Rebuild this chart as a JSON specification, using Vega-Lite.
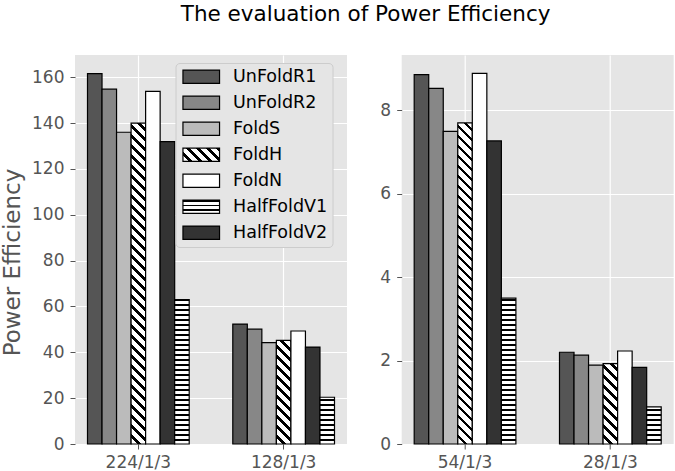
{
  "$schema": "https://vega.github.io/schema/vega-lite/v6.json",
  "background": "white",
  "padding": {"left": 1, "top": 3, "right": 0, "bottom": 0},
  "params": [
    {"name": "gstops", "value": [
      {"offset": 0, "color": "#ffffff"}, {"offset": 0.016, "color": "#ffffff"}, {"offset": 0.016, "color": "#000000"}, {"offset": 0.025, "color": "#000000"},
      {"offset": 0.025, "color": "#ffffff"}, {"offset": 0.041, "color": "#ffffff"}, {"offset": 0.041, "color": "#000000"}, {"offset": 0.05, "color": "#000000"},
      {"offset": 0.05, "color": "#ffffff"}, {"offset": 0.066, "color": "#ffffff"}, {"offset": 0.066, "color": "#000000"}, {"offset": 0.075, "color": "#000000"},
      {"offset": 0.075, "color": "#ffffff"}, {"offset": 0.091, "color": "#ffffff"}, {"offset": 0.091, "color": "#000000"}, {"offset": 0.1, "color": "#000000"},
      {"offset": 0.1, "color": "#ffffff"}, {"offset": 0.116, "color": "#ffffff"}, {"offset": 0.116, "color": "#000000"}, {"offset": 0.125, "color": "#000000"},
      {"offset": 0.125, "color": "#ffffff"}, {"offset": 0.141, "color": "#ffffff"}, {"offset": 0.141, "color": "#000000"}, {"offset": 0.15, "color": "#000000"},
      {"offset": 0.15, "color": "#ffffff"}, {"offset": 0.166, "color": "#ffffff"}, {"offset": 0.166, "color": "#000000"}, {"offset": 0.175, "color": "#000000"},
      {"offset": 0.175, "color": "#ffffff"}, {"offset": 0.191, "color": "#ffffff"}, {"offset": 0.191, "color": "#000000"}, {"offset": 0.2, "color": "#000000"},
      {"offset": 0.2, "color": "#ffffff"}, {"offset": 0.216, "color": "#ffffff"}, {"offset": 0.216, "color": "#000000"}, {"offset": 0.225, "color": "#000000"},
      {"offset": 0.225, "color": "#ffffff"}, {"offset": 0.241, "color": "#ffffff"}, {"offset": 0.241, "color": "#000000"}, {"offset": 0.25, "color": "#000000"},
      {"offset": 0.25, "color": "#ffffff"}, {"offset": 0.266, "color": "#ffffff"}, {"offset": 0.266, "color": "#000000"}, {"offset": 0.275, "color": "#000000"},
      {"offset": 0.275, "color": "#ffffff"}, {"offset": 0.291, "color": "#ffffff"}, {"offset": 0.291, "color": "#000000"}, {"offset": 0.3, "color": "#000000"},
      {"offset": 0.3, "color": "#ffffff"}, {"offset": 0.316, "color": "#ffffff"}, {"offset": 0.316, "color": "#000000"}, {"offset": 0.325, "color": "#000000"},
      {"offset": 0.325, "color": "#ffffff"}, {"offset": 0.341, "color": "#ffffff"}, {"offset": 0.341, "color": "#000000"}, {"offset": 0.35, "color": "#000000"},
      {"offset": 0.35, "color": "#ffffff"}, {"offset": 0.366, "color": "#ffffff"}, {"offset": 0.366, "color": "#000000"}, {"offset": 0.375, "color": "#000000"},
      {"offset": 0.375, "color": "#ffffff"}, {"offset": 0.391, "color": "#ffffff"}, {"offset": 0.391, "color": "#000000"}, {"offset": 0.4, "color": "#000000"},
      {"offset": 0.4, "color": "#ffffff"}, {"offset": 0.416, "color": "#ffffff"}, {"offset": 0.416, "color": "#000000"}, {"offset": 0.425, "color": "#000000"},
      {"offset": 0.425, "color": "#ffffff"}, {"offset": 0.441, "color": "#ffffff"}, {"offset": 0.441, "color": "#000000"}, {"offset": 0.45, "color": "#000000"},
      {"offset": 0.45, "color": "#ffffff"}, {"offset": 0.466, "color": "#ffffff"}, {"offset": 0.466, "color": "#000000"}, {"offset": 0.475, "color": "#000000"},
      {"offset": 0.475, "color": "#ffffff"}, {"offset": 0.491, "color": "#ffffff"}, {"offset": 0.491, "color": "#000000"}, {"offset": 0.5, "color": "#000000"},
      {"offset": 0.5, "color": "#ffffff"}, {"offset": 0.516, "color": "#ffffff"}, {"offset": 0.516, "color": "#000000"}, {"offset": 0.525, "color": "#000000"},
      {"offset": 0.525, "color": "#ffffff"}, {"offset": 0.541, "color": "#ffffff"}, {"offset": 0.541, "color": "#000000"}, {"offset": 0.55, "color": "#000000"},
      {"offset": 0.55, "color": "#ffffff"}, {"offset": 0.566, "color": "#ffffff"}, {"offset": 0.566, "color": "#000000"}, {"offset": 0.575, "color": "#000000"},
      {"offset": 0.575, "color": "#ffffff"}, {"offset": 0.591, "color": "#ffffff"}, {"offset": 0.591, "color": "#000000"}, {"offset": 0.6, "color": "#000000"},
      {"offset": 0.6, "color": "#ffffff"}, {"offset": 0.616, "color": "#ffffff"}, {"offset": 0.616, "color": "#000000"}, {"offset": 0.625, "color": "#000000"},
      {"offset": 0.625, "color": "#ffffff"}, {"offset": 0.641, "color": "#ffffff"}, {"offset": 0.641, "color": "#000000"}, {"offset": 0.65, "color": "#000000"},
      {"offset": 0.65, "color": "#ffffff"}, {"offset": 0.666, "color": "#ffffff"}, {"offset": 0.666, "color": "#000000"}, {"offset": 0.675, "color": "#000000"},
      {"offset": 0.675, "color": "#ffffff"}, {"offset": 0.691, "color": "#ffffff"}, {"offset": 0.691, "color": "#000000"}, {"offset": 0.7, "color": "#000000"},
      {"offset": 0.7, "color": "#ffffff"}, {"offset": 0.716, "color": "#ffffff"}, {"offset": 0.716, "color": "#000000"}, {"offset": 0.725, "color": "#000000"},
      {"offset": 0.725, "color": "#ffffff"}, {"offset": 0.741, "color": "#ffffff"}, {"offset": 0.741, "color": "#000000"}, {"offset": 0.75, "color": "#000000"},
      {"offset": 0.75, "color": "#ffffff"}, {"offset": 0.766, "color": "#ffffff"}, {"offset": 0.766, "color": "#000000"}, {"offset": 0.775, "color": "#000000"},
      {"offset": 0.775, "color": "#ffffff"}, {"offset": 0.791, "color": "#ffffff"}, {"offset": 0.791, "color": "#000000"}, {"offset": 0.8, "color": "#000000"},
      {"offset": 0.8, "color": "#ffffff"}, {"offset": 0.816, "color": "#ffffff"}, {"offset": 0.816, "color": "#000000"}, {"offset": 0.825, "color": "#000000"},
      {"offset": 0.825, "color": "#ffffff"}, {"offset": 0.841, "color": "#ffffff"}, {"offset": 0.841, "color": "#000000"}, {"offset": 0.85, "color": "#000000"},
      {"offset": 0.85, "color": "#ffffff"}, {"offset": 0.866, "color": "#ffffff"}, {"offset": 0.866, "color": "#000000"}, {"offset": 0.875, "color": "#000000"},
      {"offset": 0.875, "color": "#ffffff"}, {"offset": 0.891, "color": "#ffffff"}, {"offset": 0.891, "color": "#000000"}, {"offset": 0.9, "color": "#000000"},
      {"offset": 0.9, "color": "#ffffff"}, {"offset": 0.916, "color": "#ffffff"}, {"offset": 0.916, "color": "#000000"}, {"offset": 0.925, "color": "#000000"},
      {"offset": 0.925, "color": "#ffffff"}, {"offset": 0.941, "color": "#ffffff"}, {"offset": 0.941, "color": "#000000"}, {"offset": 0.95, "color": "#000000"},
      {"offset": 0.95, "color": "#ffffff"}, {"offset": 0.966, "color": "#ffffff"}, {"offset": 0.966, "color": "#000000"}, {"offset": 0.975, "color": "#000000"},
      {"offset": 0.975, "color": "#ffffff"}, {"offset": 0.991, "color": "#ffffff"}, {"offset": 0.991, "color": "#000000"}, {"offset": 1, "color": "#000000"}
    ]}
  ],
  "title": {"text": "The evaluation of Power Efficiency", "font": "DejaVu Sans", "fontSize": 21.5, "fontWeight": "normal", "color": "#000000", "anchor": "middle", "offset": 30, "dx": 28},
  "datasets": {
    "bars": [
      {"panel": "L", "group": "224/1/3", "series": "UnFoldR1", "value": 161.6},
      {"panel": "L", "group": "224/1/3", "series": "UnFoldR2", "value": 154.8},
      {"panel": "L", "group": "224/1/3", "series": "FoldS", "value": 136.0},
      {"panel": "L", "group": "224/1/3", "series": "FoldH", "value": 140.0},
      {"panel": "L", "group": "224/1/3", "series": "FoldN", "value": 153.8},
      {"panel": "L", "group": "224/1/3", "series": "HalfFoldV2", "value": 131.9},
      {"panel": "L", "group": "224/1/3", "series": "HalfFoldV1", "value": 63.0},
      {"panel": "L", "group": "128/1/3", "series": "UnFoldR1", "value": 52.3},
      {"panel": "L", "group": "128/1/3", "series": "UnFoldR2", "value": 50.1},
      {"panel": "L", "group": "128/1/3", "series": "FoldS", "value": 44.2},
      {"panel": "L", "group": "128/1/3", "series": "FoldH", "value": 45.2},
      {"panel": "L", "group": "128/1/3", "series": "FoldN", "value": 49.3},
      {"panel": "L", "group": "128/1/3", "series": "HalfFoldV2", "value": 42.3},
      {"panel": "L", "group": "128/1/3", "series": "HalfFoldV1", "value": 20.4},
      {"panel": "R", "group": "54/1/3", "series": "UnFoldR1", "value": 8.86},
      {"panel": "R", "group": "54/1/3", "series": "UnFoldR2", "value": 8.53},
      {"panel": "R", "group": "54/1/3", "series": "FoldS", "value": 7.50},
      {"panel": "R", "group": "54/1/3", "series": "FoldH", "value": 7.70},
      {"panel": "R", "group": "54/1/3", "series": "FoldN", "value": 8.89},
      {"panel": "R", "group": "54/1/3", "series": "HalfFoldV2", "value": 7.27},
      {"panel": "R", "group": "54/1/3", "series": "HalfFoldV1", "value": 3.50},
      {"panel": "R", "group": "28/1/3", "series": "UnFoldR1", "value": 2.20},
      {"panel": "R", "group": "28/1/3", "series": "UnFoldR2", "value": 2.13},
      {"panel": "R", "group": "28/1/3", "series": "FoldS", "value": 1.89},
      {"panel": "R", "group": "28/1/3", "series": "FoldH", "value": 1.93},
      {"panel": "R", "group": "28/1/3", "series": "FoldN", "value": 2.23},
      {"panel": "R", "group": "28/1/3", "series": "HalfFoldV2", "value": 1.84},
      {"panel": "R", "group": "28/1/3", "series": "HalfFoldV1", "value": 0.89}
    ]
  },
  "bounds": "flush",
  "spacing": 54.7,
  "hconcat": [
    {
      "width": 272,
      "height": 389,
      "data": {"name": "bars"},
      "transform": [{"filter": "datum.panel === 'L'"}],
      "mark": {"type": "bar", "stroke": "#000000", "strokeWidth": 1.2},
      "encoding": {
        "x": {"field": "group", "type": "nominal", "sort": ["224/1/3", "128/1/3"], "scale": {"paddingInner": 0.3, "paddingOuter": 0.086}, "axis": {"title": null, "labelAngle": 0, "bandPosition": 0.5, "labelPadding": 5}},
        "xOffset": {"field": "series", "type": "nominal", "scale": {"domain": ["UnFoldR1", "UnFoldR2", "FoldS", "FoldH", "FoldN", "HalfFoldV2", "HalfFoldV1"]}},
        "y": {"field": "value", "type": "quantitative", "scale": {"domain": [0, 169.7], "nice": false}, "axis": {"title": "Power Efficiency", "values": [0, 20, 40, 60, 80, 100, 120, 140, 160], "labelPadding": 6, "titlePadding": 7, "titleFontSize": 23, "titleY": 207}},
        "fill": {
          "field": "series", "type": "nominal",
          "scale": {"domain": ["UnFoldR1", "UnFoldR2", "FoldS", "FoldH", "FoldN", "HalfFoldV1", "HalfFoldV2"], "range": ["#555555", "#878787", "#bbbbbb",
            {"expr": "{gradient: 'linear', x1: 0, y1: 1, x2: 9.654, y2: -2.508, stops: gstops}"},
            "#ffffff",
            {"expr": "{gradient: 'linear', x1: 0, y1: 1, x2: 0.000001, y2: -12.33, stops: gstops}"},
            "#333333"]},
          "condition": [
            {"test": "datum.series === 'FoldH'", "value": {"expr": "{gradient: 'linear', x1: 0, y1: 1, x2: 5812 / (211.12 + pow(datum.value * 2.29228, 2)), y2: 1 - 400 * datum.value * 2.29228 / (211.12 + pow(datum.value * 2.29228, 2)), stops: gstops}"}},
            {"test": "datum.series === 'HalfFoldV1'", "value": {"expr": "{gradient: 'linear', x1: 0, y1: 1, x2: 0.000001, y2: 1 - 200 / (datum.value * 2.29228), stops: gstops}"}}
          ],
          "legend": {
            "title": null, "orient": "none", "legendX": 100.5, "legendY": 8,
            "symbolType": "M-2.75,-1H2.75V1H-2.75Z", "symbolSize": 177, "symbolStrokeColor": "#000000", "symbolStrokeWidth": 1.2,
            "symbolOffset": 12, "labelOffset": 23,
            "labelFont": "DejaVu Sans", "labelFontSize": 17.5, "labelColor": "#000000",
            "padding": 5, "rowPadding": 7, "fillColor": "#e5e5e5", "strokeColor": "#cccccc", "cornerRadius": 4
          }
        }
      }
    },
    {
      "width": 272,
      "height": 389,
      "data": {"name": "bars"},
      "transform": [{"filter": "datum.panel === 'R'"}],
      "mark": {"type": "bar", "stroke": "#000000", "strokeWidth": 1.2},
      "encoding": {
        "x": {"field": "group", "type": "nominal", "sort": ["54/1/3", "28/1/3"], "scale": {"paddingInner": 0.3, "paddingOuter": 0.086}, "axis": {"title": null, "labelAngle": 0, "bandPosition": 0.5, "labelPadding": 5}},
        "xOffset": {"field": "series", "type": "nominal", "scale": {"domain": ["UnFoldR1", "UnFoldR2", "FoldS", "FoldH", "FoldN", "HalfFoldV2", "HalfFoldV1"]}},
        "y": {"field": "value", "type": "quantitative", "scale": {"domain": [0, 9.33], "nice": false}, "axis": {"title": null, "values": [0, 2, 4, 6, 8], "labelPadding": 6}},
        "fill": {
          "field": "series", "type": "nominal",
          "condition": [
            {"test": "datum.series === 'FoldH'", "value": {"expr": "{gradient: 'linear', x1: 0, y1: 1, x2: 5812 / (211.12 + pow(datum.value * 41.693, 2)), y2: 1 - 400 * datum.value * 41.693 / (211.12 + pow(datum.value * 41.693, 2)), stops: gstops}"}},
            {"test": "datum.series === 'HalfFoldV1'", "value": {"expr": "{gradient: 'linear', x1: 0, y1: 1, x2: 0.000001, y2: 1 - 200 / (datum.value * 41.693), stops: gstops}"}}
          ]
        }
      }
    }
  ],
  "config": {
    "font": "DejaVu Sans",
    "view": {"fill": "#e5e5e5", "stroke": null},
    "axis": {
      "domain": false,
      "grid": true,
      "gridColor": "#ffffff",
      "gridWidth": 1.2,
      "tickColor": "#555555",
      "tickSize": 5,
      "tickWidth": 1,
      "labelFont": "DejaVu Sans",
      "labelFontSize": 17,
      "labelColor": "#555555",
      "labelPadding": 4,
      "titleFont": "DejaVu Sans",
      "titleFontSize": 21,
      "titleFontWeight": "normal",
      "titleColor": "#555555"
    }
  }
}
